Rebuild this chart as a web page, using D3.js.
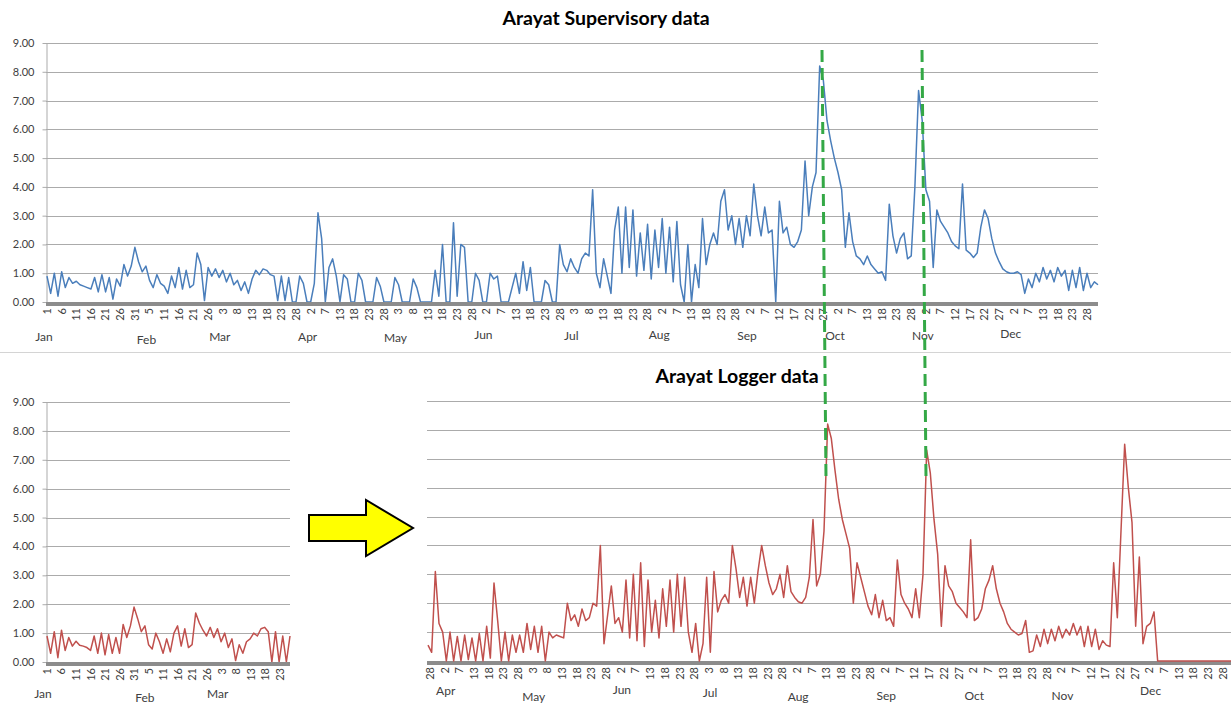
<!DOCTYPE html>
<html>
<head>
<meta charset="utf-8">
<script src="https://cdn.jsdelivr.net/npm/d3@7/dist/d3.min.js"></script>
<style>
body { margin: 0; background: #fff; }
text { font-family: Lato, "Open Sans", sans-serif; fill: #404040; }
.title { font-weight: bold; fill: #000; font-size: 19.5px; }
</style>
</head>
<body>
<svg id="chart" width="1231" height="705"></svg>
<script>
// ---------- data ----------
const yTicks = [0, 1, 2, 3, 4, 5, 6, 7, 8, 9];

// Supervisory, Jan - Dec (4 readings per tick interval)
const supTicks = ["1","6","11","16","21","26","31","5","11","16","21","26",
  "3","8","13","18","23","28","2","7","13","18","23","28",
  "3","8","13","18","23","28","2","7","13","18","23","28",
  "3","8","13","18","23","28","2","7","13","18","23","28",
  "2","7","12","17","22","27","2","7","13","18","23","28",
  "2","7","12","17","22","27","2","7","13","18","23","28"];
const supMonths = ["Jan","Feb","Mar","Apr","May","Jun","Jul","Aug","Sep","Oct","Nov","Dec"];
const supervisory = [
  0.9,0.3,1.0,0.2,  1.05,0.5,0.85,0.65,  0.72,0.6,0.55,0.5,  0.45,0.85,0.35,0.95,
  0.35,0.85,0.1,0.8,  0.55,1.3,0.9,1.25,  1.9,1.4,1.05,1.25,  0.75,0.5,0.95,0.65,
  0.55,0.3,0.9,0.5,  1.2,0.45,1.1,0.5,  0.6,1.7,1.3,0.05,  1.2,0.9,1.15,0.85,
  1.1,0.7,1.0,0.6,  0.75,0.4,0.7,0.3,  0.8,1.1,0.95,1.15,  1.1,0.95,0.9,0.05,
  0.9,0.05,0.85,0,  0,0.9,0.65,0,  0,0.65,3.1,2.2,  0,1.2,1.5,0.9,
  0,0.95,0.8,0,  0,1.0,0.75,0,  0,0,0.85,0.55,  0,0,0,0.85,
  0.6,0,0,0,  0.8,0.5,0,0,  0,0,1.1,0.2,  2.0,0,0,2.75,
  0.2,2.0,1.9,0,  0,1.0,0.75,0,  0,1.0,0.8,0.9,  0,0,0,0.5,
  1.0,0.3,1.4,0.4,  1.2,0,0,0,  0.75,0.6,0,0,  2.0,1.3,1.05,1.5,
  1.2,1.0,1.5,1.7,  1.6,3.9,1.0,0.5,  1.5,0.9,0.3,2.5,  3.3,1.0,3.3,1.2,
  3.2,0.9,2.4,1.1,  2.7,0.8,2.5,1.2,  2.9,1.0,2.6,0.7,  2.8,0.6,0,2.0,
  0,1.3,0.5,2.9,  1.3,2.0,2.4,2.0,  3.5,3.9,2.5,3.0,  2.0,2.9,1.9,3.0,
  2.3,4.1,3.0,2.3,  3.3,2.4,2.5,0,  3.5,2.4,2.6,2.0,  1.9,2.1,2.5,4.9,
  3.0,4.0,4.5,8.2,  7.7,6.3,5.6,5.0,  4.5,3.9,1.9,3.1,  2.1,1.6,1.5,1.3,
  1.6,1.3,1.15,1.0,  1.05,0.75,3.4,2.3,  1.7,2.2,2.4,1.5,  1.6,4.0,7.35,6.3,
  3.9,3.5,1.2,3.2,  2.8,2.6,2.4,2.1,  1.95,1.85,4.1,1.8,  1.7,1.55,1.7,2.6,
  3.2,2.9,2.2,1.7,  1.4,1.15,1.05,1.0,  1.0,1.05,0.95,0.3,  0.8,0.5,1.0,0.7,
  1.2,0.8,1.1,0.7,  1.2,0.9,1.1,0.4,  1.1,0.5,1.2,0.4,  1.0,0.5,0.7,0.6
];

// Logger, Jan 1 - Mar 25
const logATicks = ["1","6","11","16","21","26","31","5","11","16","21","26","3","8","13","18","23"];
const logAMonths = ["Jan","Feb","Mar"];
const loggerA = [
  0.9,0.3,1.05,0.15,  1.1,0.4,0.85,0.55,  0.72,0.58,0.55,0.5,  0.4,0.9,0.3,1.0,
  0.25,0.95,0.3,0.85,  0.3,1.3,0.85,1.25,  1.9,1.5,1.05,1.25,  0.6,0.45,1.0,0.7,
  0.3,0.8,0.35,1.0,  1.25,0.55,1.15,0.5,  0.6,1.7,1.35,1.1,  0.9,1.2,0.85,1.15,
  0.7,1.0,0.5,0.8,  0.05,0.6,0.3,0.7,  0.8,1.0,0.9,1.15,  1.2,1.05,0,1.05,
  0,0.9,0,0.9
];

// Logger, Mar 28 - Dec
const logBTicks = ["28",
  "2","7","13","18","23","28","3","8","13","18","23","28",
  "2","7","13","18","23","28","3","8","13","18","23","28",
  "2","7","13","18","23","28","2","7","12","17","22","27",
  "2","7","13","18","23","28","2","7","12","17","22","27",
  "2","7","13","18","23","28"];
const logBMonths = ["Apr","May","Jun","Jul","Aug","Sep","Oct","Nov","Dec"];
const loggerB = [
  0.55,0.3,3.1,1.3,  1.0,0,1.0,0,  0.85,0,0.9,0.05,  0.8,0,0.95,0,
  1.2,0.1,2.7,1.4,  0,1.0,0,0.9,  0.3,0.9,0.3,1.3,  0.4,1.2,0.3,1.2,
  0,1.0,0.8,0.9,  0.85,0.8,2.0,1.4,  1.6,1.2,1.8,1.4,  1.5,2.0,1.9,4.0,
  0.6,1.6,2.6,1.3,  1.5,1.0,2.8,0.8,  3.0,0.7,3.4,0.5,  2.8,1.0,2.1,0.8,
  2.5,1.2,2.8,1.0,  3.0,1.2,2.9,1.0,  0.3,1.3,0,0.6,  2.9,0.3,3.1,1.7,
  2.1,2.3,2.0,4.0,  3.2,2.2,2.9,1.9,  2.9,2.0,3.1,4.0,  3.3,2.7,2.3,2.5,
  3.0,2.2,3.3,2.4,  2.2,2.05,2.0,2.2,  2.9,4.9,2.6,3.0,  4.5,8.2,7.7,6.6,
  5.6,4.9,4.4,3.9,  2.0,3.4,2.9,2.4,  1.9,1.6,2.3,1.5,  2.1,1.4,1.5,1.2,
  3.5,2.3,2.0,1.8,  1.5,2.5,1.5,3.0,  7.3,6.5,4.9,3.7,  1.2,3.3,2.6,2.4,
  2.0,1.85,1.7,1.5,  4.2,1.4,1.5,1.8,  2.5,2.8,3.3,2.5,  2.0,1.7,1.3,1.1,
  1.0,0.9,0.95,1.4,  0.3,0.35,0.9,0.5,  1.1,0.6,1.1,0.7,  1.2,0.8,1.1,0.9,
  1.3,0.9,1.2,0.5,  1.2,0.5,1.1,0.4,  0.7,0.55,0.5,3.4,  1.5,4.5,7.5,6.0,
  4.8,1.2,3.6,0.6,  1.2,1.3,1.7,0,  0,0,0,0,  0,0,0,0,
  0,0,0,0,  0,0,0,0,  0,0,0,0
];

// ---------- drawing ----------
const svg = d3.select("#chart");
svg.append("rect").attr("width", 1231).attr("height", 705).attr("fill", "#fff");

// faint seam between the two screenshots
svg.append("line").attr("x1", 0).attr("x2", 1231).attr("y1", 352.5).attr("y2", 352.5)
  .attr("stroke", "#d4d4d4");

function panel(cfg) {
  const g = svg.append("g");
  const y = d3.scaleLinear().domain([0, 9]).range([cfg.bottom, cfg.top]);
  const xTick = d3.scalePoint().domain(d3.range(cfg.ticks.length)).range(cfg.tickRange);
  const xData = d3.scaleLinear().domain([0, cfg.values.length - 1]).range(cfg.dataRange);

  g.append("g").selectAll("line").data(yTicks.slice(1)).join("line")
    .attr("x1", cfg.left).attr("x2", cfg.right)
    .attr("y1", d => Math.round(y(d)) + 0.5).attr("y2", d => Math.round(y(d)) + 0.5)
    .attr("stroke", "#ababab");

  if (cfg.showY) {
    const ax = g.append("g").attr("transform", `translate(${cfg.left + 0.5},0)`)
      .call(d3.axisLeft(y).tickValues(yTicks).tickFormat(d3.format(".2f"))
        .tickSize(4).tickSizeOuter(0).tickPadding(8));
    ax.selectAll("path, line").attr("stroke", "#ababab");
    ax.selectAll("text").style("font-size", "11px").attr("fill", "#404040")
      .style("font-family", "Lato, 'Open Sans', sans-serif");
  }

  const line = d3.line().x((d, i) => xData(i)).y(d => y(d));
  const drawAxis = () => g.append("line")
    .attr("x1", cfg.left).attr("x2", cfg.right)
    .attr("y1", cfg.bottom + 2).attr("y2", cfg.bottom + 2)
    .attr("stroke", "#8c8c8c").attr("stroke-width", 4);

  if (!cfg.dataOnTop) drawAxis();
  g.append("path").datum(cfg.values)
    .attr("d", line).attr("fill", "none")
    .attr("stroke", cfg.color).attr("stroke-width", 1.5)
    .attr("stroke-linejoin", "round");
  if (cfg.dataOnTop) drawAxis();

  g.append("g").selectAll("text").data(cfg.ticks).join("text")
    .attr("transform", (d, i) => `translate(${xTick(i)},${cfg.bottom + 6}) rotate(-90)`)
    .attr("text-anchor", "end").attr("dy", "0.35em")
    .style("font-size", "11px").text(d => d);

  // month labels sit under the first tick of each month
  const starts = [];
  cfg.ticks.forEach((t, i) => {
    if (i === 0 ? +t <= 5 : +t < +cfg.ticks[i - 1]) starts.push(i);
  });
  g.append("g").selectAll("text").data(cfg.months).join("text")
    .attr("x", (d, j) => xTick(starts[j]) + cfg.monthDx)
    .attr("y", (d, j) => cfg.monthY + cfg.monthDy[j])
    .attr("text-anchor", "middle").style("font-size", "12px").text(d => d);
}

panel({
  values: supervisory, ticks: supTicks, months: supMonths, color: "#4a7ebb",
  top: 43, bottom: 302, left: 46, right: 1098, showY: true, dataOnTop: true,
  tickRange: [47, 1087], dataRange: [47, 1098],
  monthY: 341, monthDx: -3, monthDy: [0, 3, 0, 0, 1, -2, -1, -2, -1, -1, -1, -3]
});

panel({
  values: loggerA, ticks: logATicks, months: logAMonths, color: "#c0504d",
  top: 402, bottom: 662, left: 46, right: 290, showY: true, dataOnTop: true,
  tickRange: [47, 280], dataRange: [47, 290],
  monthY: 698, monthDx: -4, monthDy: [0, 4, 0]
});

panel({
  values: loggerB, ticks: logBTicks, months: logBMonths, color: "#c0504d",
  top: 401, bottom: 661, left: 427, right: 1231, showY: false, dataOnTop: false,
  tickRange: [430, 1223], dataRange: [428, 1231],
  monthY: 695, monthDx: 1, monthDy: [0, 6, -1, 2, 6, 5, 5, 5, 0]
});

// titles
svg.append("text").attr("class", "title").attr("x", 606).attr("y", 25)
  .attr("text-anchor", "middle").text("Arayat Supervisory data");
svg.append("text").attr("class", "title").attr("x", 737).attr("y", 383)
  .attr("text-anchor", "middle").text("Arayat Logger data");

// green dashed markers linking the peaks
[[822, 826], [922, 926]].forEach(([xa, xb]) => {
  svg.append("line").attr("x1", xa).attr("y1", 50).attr("x2", xb).attr("y2", 478)
    .attr("stroke", "#34a846").attr("stroke-width", 3)
    .attr("stroke-dasharray", "12,6");
});

// yellow arrow
svg.append("polygon")
  .attr("points", [[309, 515], [366, 515], [366, 500], [413, 528], [366, 556], [366, 541], [309, 541]].join(" "))
  .attr("fill", "#ffff00").attr("stroke", "#000").attr("stroke-width", 2);
</script>
</body>
</html>
